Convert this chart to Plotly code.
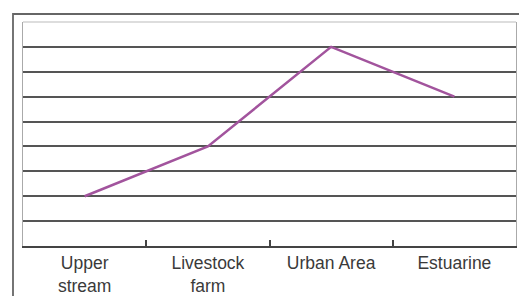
import plotly.graph_objects as go

categories = ["Upper<br>stream", "Livestock<br>farm", "Urban Area", "Estuarine"]
values = [2, 4, 8, 6]
grid_levels = [1, 2, 3, 4, 5, 6, 7, 8]

W, H = 519, 296
L, R, T, B = 23, 3, 22, 50
pw = W - L - R
ph = H - T - B

fig = go.Figure()
fig.add_trace(go.Scatter(
    x=categories, y=values, mode="lines",
    line=dict(color="#a2549d", width=2.5),
    showlegend=False, hoverinfo="skip",
))

fig.update_layout(
    width=W, height=H,
    margin=dict(l=L, r=R, t=T, b=B, autoexpand=False),
    paper_bgcolor="white", plot_bgcolor="white",
    font=dict(family="Liberation Sans, Arial, sans-serif", size=17.5, color="#3a3a3a"),
    xaxis=dict(
        type="category", range=[-0.5, 3.5], automargin=False,
        showgrid=False, zeroline=False,
        showline=True, linecolor="#444", linewidth=1.5,
        ticks="inside", tickson="boundaries", ticklen=6, tickcolor="#444", tickwidth=1.5,
        tickfont=dict(size=17.5, color="#3a3a3a"),
    ),
    yaxis=dict(
        range=[0, 9], tickvals=grid_levels, showticklabels=False, automargin=False,
        showgrid=True, gridcolor="#555", gridwidth=1.5,
        zeroline=False, ticks="",
        showline=True, linecolor="#aaa", linewidth=1, mirror=True,
    ),
    shapes=[
        # top border of plot area
        dict(type="line", xref="paper", yref="paper", x0=0, x1=1, y0=1, y1=1,
             line=dict(color="#bbb", width=1)),
        # outer frame
        dict(type="rect", xref="paper", yref="paper",
             x0=-10 / pw, x1=1.05, y0=-0.4, y1=1 + 8 / ph,
             line=dict(color="#666", width=1.8)),
    ],
)

fig.write_html(
    "out.html",
    config={"displayModeBar": False},
    post_script="document.body.style.margin='0';document.body.style.overflow='hidden';",
)
